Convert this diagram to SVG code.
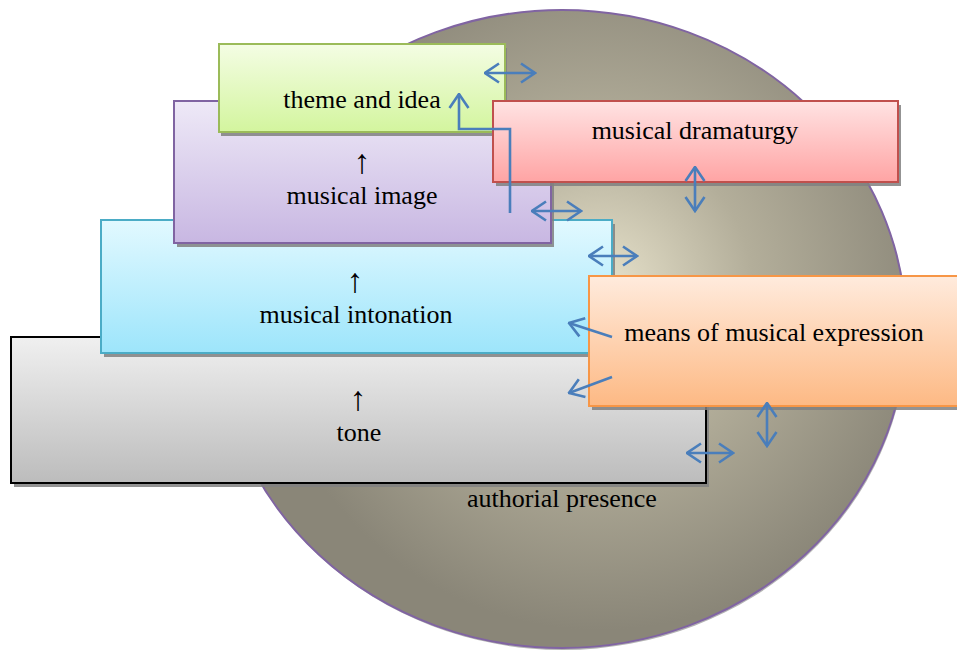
<svg xmlns="http://www.w3.org/2000/svg" width="957" height="652" viewBox="0 0 957 652">
<defs>
<radialGradient id="gEll" gradientUnits="userSpaceOnUse" cx="600" cy="290" r="340">
<stop offset="0" stop-color="#e8e3cc"/>
<stop offset="0.45" stop-color="#b3ae9a"/>
<stop offset="1" stop-color="#8a8678"/>
</radialGradient>
<linearGradient id="gTheme" x1="0" y1="0" x2="0" y2="1"><stop offset="0" stop-color="#f4fde4"/><stop offset="1" stop-color="#d3f59e"/></linearGradient>
<linearGradient id="gImage" x1="0" y1="0" x2="0" y2="1"><stop offset="0" stop-color="#eee9f7"/><stop offset="1" stop-color="#c8b7e2"/></linearGradient>
<linearGradient id="gInton" x1="0" y1="0" x2="0" y2="1"><stop offset="0" stop-color="#e2f9ff"/><stop offset="1" stop-color="#9de5fb"/></linearGradient>
<linearGradient id="gTone" x1="0" y1="0" x2="0" y2="1"><stop offset="0" stop-color="#f0f0f0"/><stop offset="1" stop-color="#bcbcbc"/></linearGradient>
<linearGradient id="gDram" x1="0" y1="0" x2="0" y2="1"><stop offset="0" stop-color="#ffe3e3"/><stop offset="1" stop-color="#ffa4a4"/></linearGradient>
<linearGradient id="gMeans" x1="0" y1="0" x2="0" y2="1"><stop offset="0" stop-color="#ffebdd"/><stop offset="1" stop-color="#fdb984"/></linearGradient>
<marker id="ah" viewBox="0 0 17 22" refX="15.5" refY="11" markerWidth="17" markerHeight="22" markerUnits="userSpaceOnUse" orient="auto-start-reverse">
<path d="M1.5,1.5 L15.5,11 L1.5,20.5" fill="none" stroke="#4a7ebb" stroke-width="2.6"/>
</marker>
</defs>
<style>
.t{font-family:"Liberation Serif","Times New Roman",serif;font-size:26px;fill:#000;text-anchor:middle}
.ar{font-family:"Liberation Serif","Times New Roman",serif;font-size:34px;fill:#000;text-anchor:middle}
.sh{fill:#808080;opacity:0.85}
.c2{fill:none;stroke:#4a7ebb;stroke-width:2.6;marker-end:url(#ah)}
.cd{fill:none;stroke:#4a7ebb;stroke-width:2.6;marker-start:url(#ah);marker-end:url(#ah)}
</style>
<g id="authorial-presence">
<ellipse cx="563" cy="331" rx="344" ry="319" fill="#a0a0a0" opacity="0.8"/>
<ellipse cx="562" cy="329" rx="344" ry="319" fill="url(#gEll)" stroke="#8064a2" stroke-width="2"/>
<text class="t" x="562" y="507">authorial presence</text>
</g>
<g id="tone">
<rect class="sh" x="14" y="341" width="695" height="146"/>
<rect x="11" y="337" width="695" height="146" fill="url(#gTone)" stroke="#000" stroke-width="2"/>
<text class="ar" x="358" y="410">↑</text>
<text class="t" x="359" y="441">tone</text>
</g>
<g id="musical-intonation">
<rect class="sh" x="104" y="224" width="511" height="133"/>
<rect x="101" y="220" width="511" height="133" fill="url(#gInton)" stroke="#4bacc6" stroke-width="2"/>
<text class="ar" x="355" y="292">↑</text>
<text class="t" x="356" y="323">musical intonation</text>
</g>
<g id="musical-image">
<rect class="sh" x="177" y="105" width="377" height="142"/>
<rect x="174" y="101" width="377" height="142" fill="url(#gImage)" stroke="#8064a2" stroke-width="2"/>
<text class="ar" x="362" y="173">↑</text>
<text class="t" x="362" y="204">musical image</text>
</g>
<g id="theme-and-idea">
<rect class="sh" x="221" y="48" width="286" height="88"/>
<rect x="219" y="44" width="286" height="88" fill="url(#gTheme)" stroke="#9bbb59" stroke-width="2"/>
<text class="t" x="362" y="108">theme and idea</text>
</g>
<g id="musical-dramaturgy">
<rect class="sh" x="496" y="105" width="405" height="81"/>
<rect x="493" y="101" width="405" height="81" fill="url(#gDram)" stroke="#c0504d" stroke-width="2"/>
<text class="t" x="695" y="139">musical dramaturgy</text>
</g>
<g id="means-of-musical-expression">
<rect class="sh" x="592" y="280" width="370" height="130"/>
<rect x="589" y="276" width="372" height="130" fill="url(#gMeans)" stroke="#f79646" stroke-width="2"/>
<text class="t" x="774" y="341">means of musical expression</text>
</g>
<g id="connectors">
<path class="c2" d="M510,213 L510,129 L459,129 L459,94"/>
<path class="cd" d="M485,73 L535,73"/>
<path class="cd" d="M532,211 L581,211"/>
<path class="cd" d="M695,167 L695,211"/>
<path class="cd" d="M589,256 L637,256"/>
<path class="c2" d="M612,337 L569,323"/>
<path class="c2" d="M612,377 L569,393"/>
<path class="cd" d="M767,403 L767,446"/>
<path class="cd" d="M687,453 L733,453"/>
</g>
</svg>
